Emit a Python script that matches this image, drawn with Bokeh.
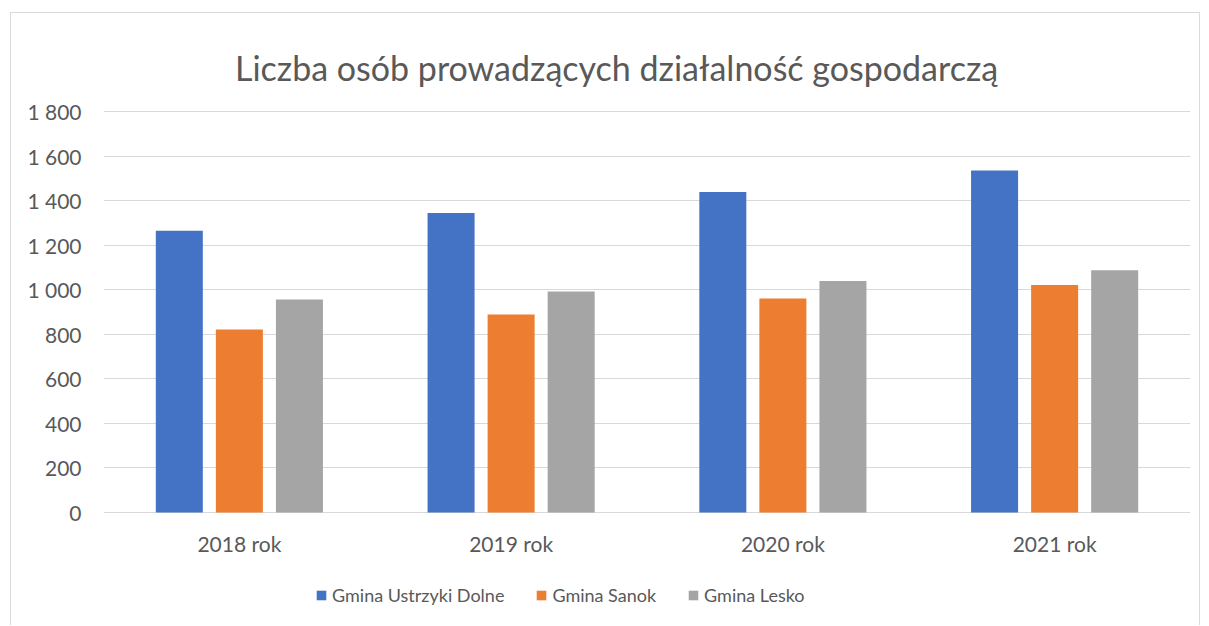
from bokeh.plotting import figure
from bokeh.models import ColumnDataSource, FactorRange, Range1d, Legend, LegendItem, CustomJSTickFormatter, FixedTicker, Label
from bokeh.transform import dodge
from bokeh.core.properties import value
from bokeh.embed import file_html
from bokeh.resources import INLINE

title_text = "Liczba osób prowadzących działalność gospodarczą"
years = ["2018 rok", "2019 rok", "2020 rok", "2021 rok"]
ustrzyki = [1265, 1344, 1439, 1535]
sanok = [822, 889, 961, 1021]
lesko = [956, 992, 1039, 1088]
series_names = ["Gmina Ustrzyki Dolne", "Gmina Sanok", "Gmina Lesko"]
colors = ["#4472C4", "#ED7D31", "#A5A5A5"]
y_ticks = [0, 200, 400, 600, 800, 1000, 1200, 1400, 1600, 1800]

src = ColumnDataSource(dict(year=years, u=ustrzyki, s=sanok, l=lesko,
                            ly=[-140] * len(years)))

FONT = "Lato"
TXT = "#595959"
BORDER = "1px solid #d9d9d9"

# frame fills the canvas height: 0 at 512 px and 1800 at 111 px on the page
p = figure(x_range=FactorRange(*years), y_range=Range1d(-507, 2240),
           frame_width=1087, frame_height=612, output_backend="svg", toolbar_location=None,
           min_border_left=92, min_border_right=9, min_border_top=0, min_border_bottom=0,
           styles={"margin-left": "10px", "margin-top": "12px",
                   "border-left": BORDER, "border-top": BORDER, "border-right": BORDER})

offs = [-0.221, 0.0, 0.221]
rs = []
for col, off, c in zip(["u", "s", "l"], offs, colors):
    r = p.vbar(x=dodge("year", off, range=p.x_range), top=col, bottom=0, width=0.173, source=src,
               fill_color=c, line_color=None)
    rs.append(r)

# category labels
p.text(x="year", y="ly", text="year", source=src, text_align="center", text_baseline="middle",
       text_font=value(FONT), text_font_size="21px", text_color=TXT)

# chart title
p.add_layout(Label(x=1.888, y=1997, text=title_text, text_align="center",
                   text_baseline="alphabetic", text_font=FONT, text_font_size="34px",
                   text_color=TXT))

p.outline_line_color = None
p.xaxis.visible = False
p.xgrid.grid_line_color = None
p.ygrid.grid_line_color = "#d9d9d9"
p.ygrid.grid_line_width = 1

p.yaxis.ticker = FixedTicker(ticks=y_ticks)
p.yaxis.formatter = CustomJSTickFormatter(code="""
const s = Math.round(tick).toString();
return s.replace(/\\B(?=(\\d{3})+(?!\\d))/g, " ");
""")
p.yaxis.axis_line_color = None
p.yaxis.major_tick_line_color = None
p.yaxis.minor_tick_line_color = None
p.yaxis.major_label_text_font = FONT
p.yaxis.major_label_text_font_size = "21px"
p.yaxis.major_label_text_color = TXT
p.yaxis.major_label_standoff = 16

legend = Legend(items=[LegendItem(label=n, renderers=[r]) for n, r in zip(series_names, rs)],
                orientation="horizontal", location=(212, 19),
                label_text_font=FONT, label_text_font_size="18px", label_text_color=TXT,
                glyph_width=12, glyph_height=12, label_standoff=5, spacing=31,
                border_line_color=None, background_fill_alpha=0, margin=0, padding=0)
p.add_layout(legend, "center")

open("out.html", "w").write(file_html(p, INLINE))
